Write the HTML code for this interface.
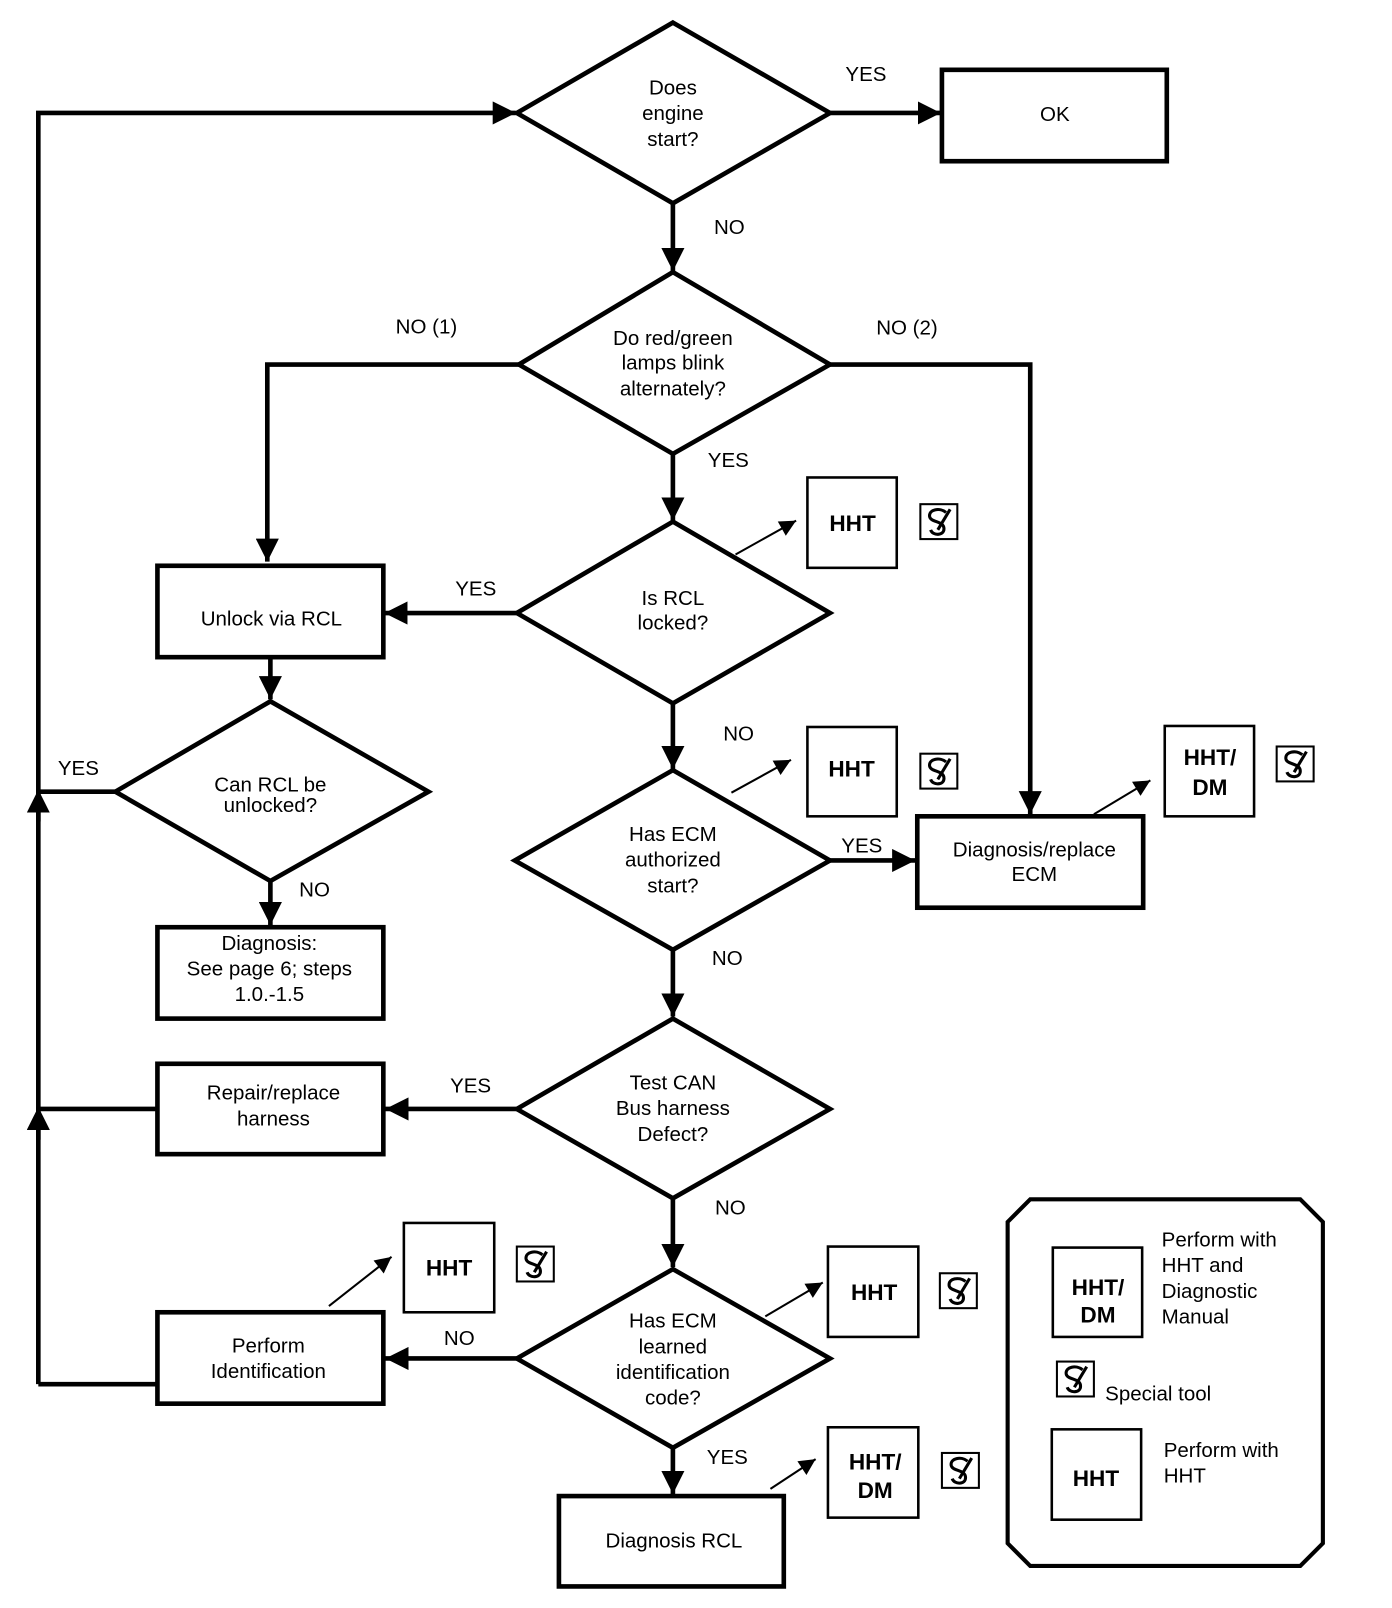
<!DOCTYPE html>
<html><head><meta charset="utf-8"><style>
html,body{margin:0;padding:0;background:#fff;}
svg{display:block;}
text{font-family:"Liberation Sans",sans-serif;font-size:20px;fill:#000;}
.b{font-weight:bold;font-size:22px;}
</style></head><body>
<svg width="1392" height="1608" viewBox="0 0 1355 1566" xmlns="http://www.w3.org/2000/svg">
<defs>
<marker id="a" viewBox="0 0 10 10" refX="10" refY="5" markerWidth="5" markerHeight="5" orient="auto" markerUnits="strokeWidth"><path d="M0,0 L10,5 L0,10 z" fill="#000"/></marker>
<marker id="t" viewBox="0 0 10 10" refX="10" refY="5" markerWidth="9" markerHeight="8" orient="auto" markerUnits="strokeWidth"><path d="M0,0 L10,5 L0,10 z" fill="#000"/></marker>
<g id="tool"><rect x="1" y="1" width="36" height="34" fill="#fff" stroke="#000" stroke-width="2"/><path d="M26,9 C20,4 9,6 10,13 C11,19 24,17 24,25 C24,32 13,32 11,26" fill="none" stroke="#000" stroke-width="3"/><path d="M18,26 L30,6" stroke="#000" stroke-width="3"/></g>
</defs>
<g fill="none" stroke="#000" stroke-width="4.5">
<!-- diamonds -->
<polygon points="655,22 808,110 655,198 503,110" fill="#fff"/>
<polygon points="655,265 808,355 655,442 505,355"/>
<polygon points="655,508 808,597 655,685 503,597"/>
<polygon points="263,683 417,771 263,858 112,771"/>
<polygon points="655,750 808,838 655,925 501,838"/>
<polygon points="655,992 808,1080 655,1167 503,1080"/>
<polygon points="655,1236 808,1323 655,1410 503,1323"/>
<!-- boxes -->
<rect x="917" y="68" width="219" height="89"/>
<rect x="153" y="551" width="220" height="89"/>
<rect x="153" y="903" width="220" height="89"/>
<rect x="893" y="795" width="220" height="89"/>
<rect x="153" y="1036" width="220" height="88"/>
<rect x="153" y="1278" width="220" height="89"/>
<rect x="544" y="1457" width="219" height="88"/>
</g>
<g fill="none" stroke="#000" stroke-width="2.5">
<rect x="786" y="465" width="87" height="88"/>
<rect x="786" y="708" width="87" height="87"/>
<rect x="1134" y="707" width="87" height="88"/>
<rect x="393" y="1191" width="88" height="87"/>
<rect x="806" y="1214" width="88" height="88"/>
<rect x="806" y="1390" width="88" height="88"/>
<rect x="1025" y="1215" width="87" height="87"/>
<rect x="1024" y="1392" width="87" height="88"/>
<polygon points="1003,1168 1266,1168 1288,1190 1288,1503 1266,1525 1003,1525 981,1503 981,1190" stroke-width="4"/>
</g>
<!-- connectors -->
<g fill="none" stroke="#000" stroke-width="4.5">
<path d="M808,110 H916" marker-end="url(#a)"/>
<path d="M37,1348 V110 H502" marker-end="url(#a)"/>
<path d="M37,1348 H153"/>
<path d="M655,198 V264" marker-end="url(#a)"/>
<path d="M505,355 H260 V547" marker-end="url(#a)"/>
<path d="M808,355 H1003 V793" marker-end="url(#a)"/>
<path d="M655,442 V507" marker-end="url(#a)"/>
<path d="M503,597 H374" marker-end="url(#a)"/>
<path d="M263,640 V681" marker-end="url(#a)"/>
<path d="M263,858 V901" marker-end="url(#a)"/>
<path d="M112,771 H37"/>
<path d="M37,800 V769" marker-end="url(#a)"/>
<path d="M655,685 V749" marker-end="url(#a)"/>
<path d="M808,838 H891" marker-end="url(#a)"/>
<path d="M655,925 V990" marker-end="url(#a)"/>
<path d="M503,1080 H375" marker-end="url(#a)"/>
<path d="M153,1080 H37"/>
<path d="M37,1110 V1078" marker-end="url(#a)"/>
<path d="M655,1167 V1234" marker-end="url(#a)"/>
<path d="M503,1323 H375" marker-end="url(#a)"/>
<path d="M655,1410 V1455" marker-end="url(#a)"/>
</g>
<g fill="none" stroke="#000" stroke-width="2">
<path d="M716,540 L775,507" marker-end="url(#t)"/>
<path d="M712,772 L770,740" marker-end="url(#t)"/>
<path d="M1065,793 L1120,760" marker-end="url(#t)"/>
<path d="M320,1272 L381,1224" marker-end="url(#t)"/>
<path d="M745,1282 L801,1249" marker-end="url(#t)"/>
<path d="M750,1450 L794,1421" marker-end="url(#t)"/>
</g>
<!-- tools -->
<use href="#tool" x="895" y="490"/>
<use href="#tool" x="895" y="733"/>
<use href="#tool" x="1242" y="726"/>
<use href="#tool" x="502" y="1213"/>
<use href="#tool" x="914" y="1239"/>
<use href="#tool" x="916" y="1414"/>
<use href="#tool" x="1028" y="1325"/>
<!-- text -->
<g text-anchor="middle">
<text x="655" y="92">Does</text><text x="655" y="117">engine</text><text x="655" y="142">start?</text>
<text x="655" y="336">Do red/green</text><text x="655" y="360">lamps blink</text><text x="655" y="385">alternately?</text>
<text x="655" y="589">Is RCL</text><text x="655" y="613">locked?</text>
<text x="263" y="771">Can RCL be</text><text x="263" y="791">unlocked?</text>
<text x="655" y="819">Has ECM</text><text x="655" y="844">authorized</text><text x="655" y="869">start?</text>
<text x="655" y="1061">Test CAN</text><text x="655" y="1086">Bus harness</text><text x="655" y="1111">Defect?</text>
<text x="655" y="1293">Has ECM</text><text x="655" y="1318">learned</text><text x="655" y="1343">identification</text><text x="655" y="1368">code?</text>
<text x="1027" y="118">OK</text>
<text x="264" y="609">Unlock via RCL</text>
<text x="262" y="925">Diagnosis:</text><text x="262" y="950">See page 6; steps</text><text x="262" y="975">1.0.-1.5</text>
<text x="1007" y="834">Diagnosis/replace</text><text x="1007" y="858">ECM</text>
<text x="266" y="1071">Repair/replace</text><text x="266" y="1096">harness</text>
<text x="261" y="1317">Perform</text><text x="261" y="1342">Identification</text>
<text x="656" y="1507">Diagnosis RCL</text>
<text class="b" x="830" y="517">HHT</text>
<text class="b" x="829" y="756">HHT</text>
<text class="b" x="1178" y="745">HHT/</text><text class="b" x="1178" y="774">DM</text>
<text class="b" x="437" y="1242">HHT</text>
<text class="b" x="851" y="1266">HHT</text>
<text class="b" x="852" y="1431">HHT/</text><text class="b" x="852" y="1459">DM</text>
<text class="b" x="1069" y="1261">HHT/</text><text class="b" x="1069" y="1288">DM</text>
<text class="b" x="1067" y="1447">HHT</text>
</g>
<text x="823" y="79">YES</text>
<text x="695" y="228">NO</text>
<text x="385" y="325">NO (1)</text>
<text x="853" y="326">NO (2)</text>
<text x="689" y="455">YES</text>
<text x="443" y="580">YES</text>
<text x="56" y="755">YES</text>
<text x="291" y="873">NO</text>
<text x="704" y="721">NO</text>
<text x="819" y="830">YES</text>
<text x="693" y="940">NO</text>
<text x="438" y="1064">YES</text>
<text x="696" y="1183">NO</text>
<text x="432" y="1310">NO</text>
<text x="688" y="1426">YES</text>
<text x="1131" y="1214">Perform with</text><text x="1131" y="1239">HHT and</text><text x="1131" y="1264">Diagnostic</text><text x="1131" y="1289">Manual</text>
<text x="1076" y="1364">Special tool</text>
<text x="1133" y="1419">Perform with</text><text x="1133" y="1444">HHT</text>
</svg>
</body></html>
